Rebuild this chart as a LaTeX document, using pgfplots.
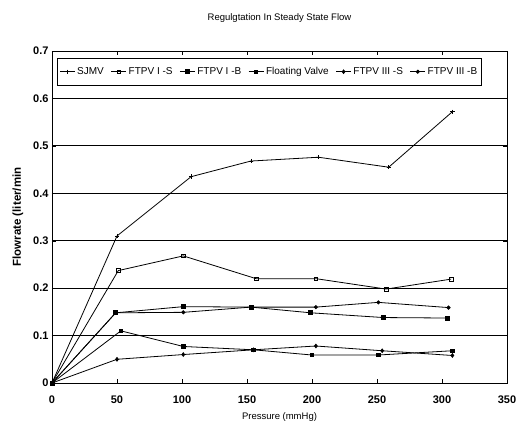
\documentclass[border=0pt]{standalone}
\usepackage{pgfplots}
\pgfplotsset{compat=1.18}
\usepackage{fontspec}
\setmainfont{Liberation Sans}
\begin{document}
\begin{tikzpicture}
\begin{axis}[
  name=ax,
  scale only axis,
  width=455pt, height=332pt,
  xmin=0, xmax=350, ymin=0, ymax=0.7,
  xtick={0,50,...,350}, ytick={0,0.1,...,0.7},
  ymajorgrids, major grid style={black, line width=0.8pt},
  axis line style={line width=0.8pt},
  tick align=inside, tick style={black},
  yticklabel style={/pgf/number format/fixed, /pgf/number format/precision=1},
  xticklabel style={yshift=-9pt},
  /pgf/number format/assume math mode=true,
  ticklabel style={font=\fontsize{11}{13}\selectfont\bfseries},
  xlabel={Pressure (mmHg)}, ylabel={Flowrate (liter/min},
  xlabel style={font=\fontsize{9.5}{11}\selectfont, yshift=-2pt},
  ylabel style={font=\fontsize{11.5}{13}\selectfont\bfseries, yshift=3pt},
  title={Regulgtation In Steady State Flow},
  title style={font=\fontsize{9.5}{11}\selectfont, yshift=19pt},
  legend columns=6,
  legend style={at={(0.011,0.979)}, anchor=north west, draw=black, line width=0.8pt,
     font=\fontsize{10}{12}\selectfont, inner ysep=7pt, inner xsep=2pt,
     /tikz/every even column/.append style={column sep=5pt}},
  legend image code/.code={\draw[#1] (0pt,0pt) -- (15pt,0pt); \draw[#1, only marks] plot coordinates {(7.5pt,0pt)};},
  every axis plot/.append style={black, line width=0.8pt},
]
\addplot[mark=+, mark size=2.2pt] coordinates {(0,0)(50,0.31)(107,0.435)(153,0.468)(205,0.476)(259,0.455)(308,0.572)};
\addlegendentry{SJMV}
\addplot[mark=square, mark size=1.8pt, mark options={line width=0.6pt}] coordinates {(0,0)(51,0.237)(101,0.268)(157,0.22)(203,0.22)(257,0.198)(307,0.219)};
\addlegendentry{FTPV I -S}
\addplot[mark=square*, mark size=2pt] coordinates {(0,0)(49,0.148)(101,0.161)(153,0.16)(199,0.148)(255,0.138)(304,0.137)};
\addlegendentry{FTPV I -B}
\addplot[mark=square*, mark size=1.7pt] coordinates {(0,0)(53,0.11)(101,0.077)(155,0.07)(200,0.059)(251,0.059)(308,0.068)};
\addlegendentry{Floating Valve}
\addplot[mark=diamond*, mark size=1.8pt] coordinates {(0,0)(50,0.05)(101,0.06)(155,0.07)(203,0.078)(254,0.068)(308,0.058)};
\addlegendentry{FTPV III -S}
\addplot[mark=*, mark size=1.6pt] coordinates {(0,0)(49,0.148)(101,0.149)(153,0.16)(203,0.16)(251,0.17)(305,0.159)};
\addlegendentry{FTPV III -B}
\end{axis}
\path[use as bounding box] ([xshift=-52pt,yshift=-47pt]ax.south west) rectangle ([xshift=22pt,yshift=51pt]ax.north east);
\end{tikzpicture}
\end{document}
